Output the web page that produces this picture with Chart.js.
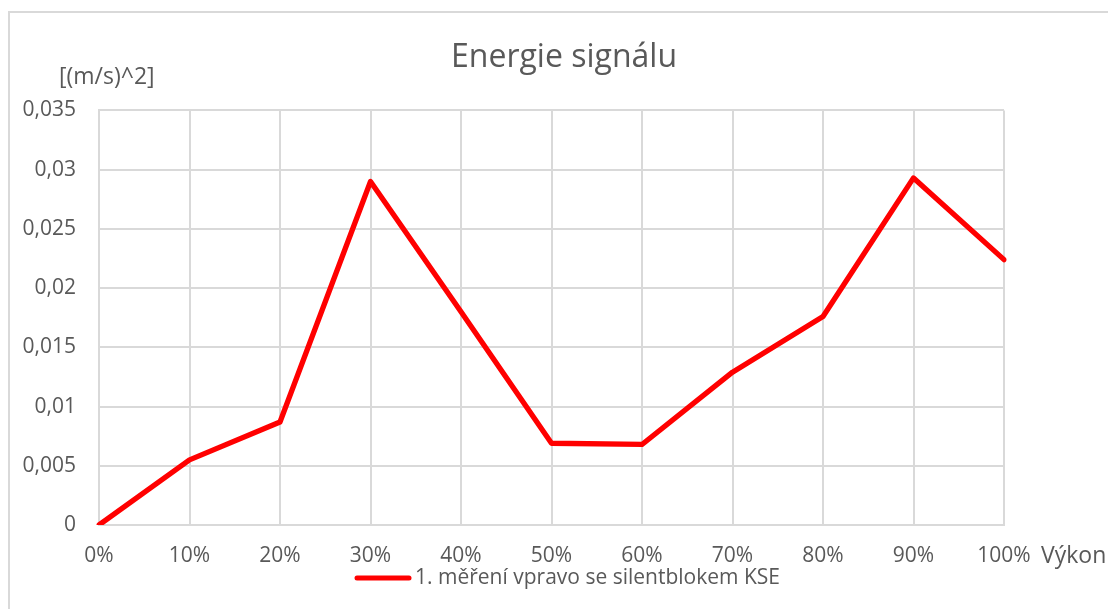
<!DOCTYPE html>
<html>
<head>
<meta charset="utf-8">
<script src="https://cdn.jsdelivr.net/npm/chart.js@4"></script>
<style>
  html, body { margin: 0; padding: 0; background: #ffffff; overflow: hidden; }
  #wrap { position: relative; width: 1108px; height: 609px; }
  #frame { position: absolute; left: 8px; top: 11px; width: 1200px; height: 700px;
           border: 2px solid #d9d9d9; box-sizing: border-box; }
  canvas { position: absolute; left: 0; top: 0; }
</style>
</head>
<body>
<div id="wrap">
  <div id="frame"></div>
  <canvas id="c" width="1108" height="609"></canvas>
</div>
<script>
// Výkon (power step) categories
const categories = ['0%', '10%', '20%', '30%', '40%', '50%', '60%', '70%', '80%', '90%', '100%'];
// Signal energy, [(m/s)^2]
const energy = [0, 0.0055, 0.0087, 0.0290, 0.0180, 0.0069, 0.0068, 0.0129, 0.0176, 0.0293, 0.0224];
const seriesName = '1. měření vpravo se silentblokem KSE';
const chartTitle = 'Energie signálu';
const yAxisTitle = '[(m/s)^2]';
const xAxisTitle = 'Výkon';
const yMin = 0, yMax = 0.035, yStep = 0.005;

const TEXT = '#595959';
const GRID = '#d9d9d9';
const RED = '#ff0000';
const FONT = "'Open Sans', 'Noto Sans', sans-serif";

// Axis captions and the legend entry, drawn beside the plot area
const extras = {
  id: 'extras',
  afterDraw(chart) {
    const ctx = chart.ctx;
    const area = chart.chartArea;
    ctx.save();
    ctx.fillStyle = TEXT;
    ctx.textBaseline = 'middle';
    ctx.textAlign = 'left';
    ctx.font = '23px ' + FONT;
    ctx.fillText(yAxisTitle, 59, 77);
    ctx.fillText(xAxisTitle, area.right + 37, 556);

    const ds = chart.data.datasets[0];
    ctx.strokeStyle = ds.borderColor;
    ctx.lineWidth = 5;
    ctx.lineCap = 'round';
    ctx.beginPath();
    ctx.moveTo(357, 578);
    ctx.lineTo(409, 578);
    ctx.stroke();
    ctx.font = '21px ' + FONT;
    ctx.fillText(ds.label, 415, 578);
    ctx.restore();
  }
};

new Chart(document.getElementById('c'), {
  type: 'line',
  data: {
    labels: categories,
    datasets: [{
      label: seriesName,
      data: energy,
      borderColor: RED,
      backgroundColor: RED,
      borderWidth: 5.3,
      borderJoinStyle: 'round',
      borderCapStyle: 'round',
      pointRadius: 0,
      pointHoverRadius: 0,
      tension: 0,
      fill: false
    }]
  },
  options: {
    responsive: false,
    animation: false,
    devicePixelRatio: 1,
    layout: { padding: { left: 20, right: 0, top: 0, bottom: 0 } },
    plugins: {
      legend: { display: false },
      tooltip: { enabled: false },
      title: {
        display: true,
        text: chartTitle,
        color: TEXT,
        font: { family: FONT, size: 32, weight: 'normal', lineHeight: 1.2 },
        padding: { top: 39, bottom: 33 }
      }
    },
    scales: {
      x: {
        type: 'category',
        offset: false,
        grid: { color: GRID, lineWidth: 2, drawTicks: false },
        border: { color: GRID, width: 2 },
        ticks: { color: TEXT, font: { family: FONT, size: 21 }, padding: 18, maxRotation: 0, autoSkip: false },
        afterFit(scale) { scale.height = 84; }
      },
      y: {
        position: 'left',
        min: yMin,
        max: yMax,
        grid: { color: GRID, lineWidth: 2, drawTicks: false },
        border: { color: GRID, width: 2 },
        ticks: {
          stepSize: yStep,
          color: TEXT,
          font: { family: FONT, size: 21 },
          padding: 23,
          callback: (v) => String(parseFloat(v.toFixed(3))).replace('.', ',')
        },
        afterFit(scale) { scale.width = 79; }
      },
      spacer: {
        position: 'right',
        display: true,
        grid: { display: false, drawTicks: false },
        border: { display: false },
        ticks: { display: false },
        afterFit(scale) { scale.width = 104; }
      }
    }
  },
  plugins: [extras]
});
</script>
</body>
</html>
